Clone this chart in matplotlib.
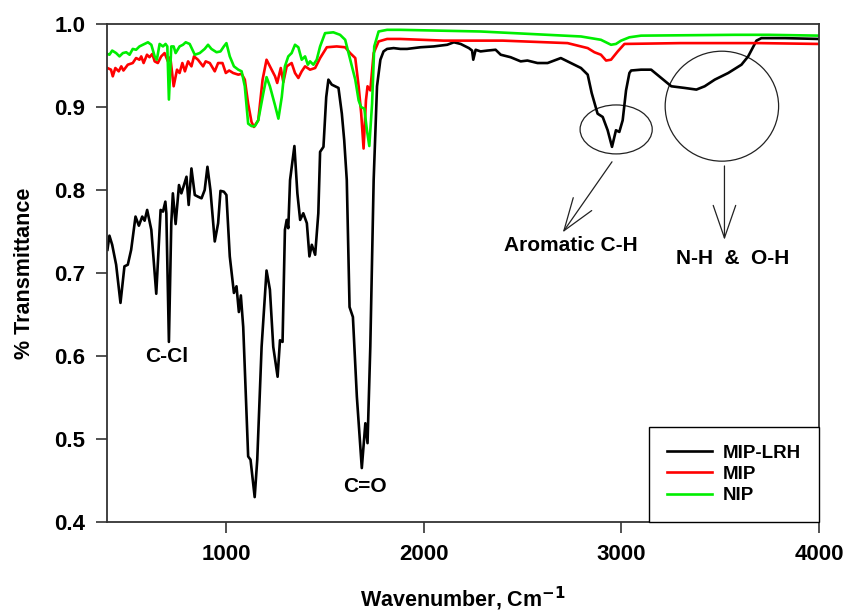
import matplotlib
matplotlib.use('Agg')
import matplotlib.pyplot as plt
from matplotlib.patches import Ellipse

plt.rcParams['font.family'] = ['Liberation Sans', 'DejaVu Sans']
plt.rcParams['font.weight'] = 'bold'

# MIP-LRH (black)
lrh_wn = [400, 410, 424, 444, 466, 486, 503, 520, 542, 559, 576, 588, 601, 622, 647, 669, 681, 693, 698,
          711, 723, 731, 745, 762, 774, 786, 800, 811, 825, 842, 858, 876, 892, 906, 921, 943, 960, 972,
          989, 1002, 1019, 1040, 1053, 1065, 1075, 1087, 1112, 1124, 1145, 1158, 1180, 1205, 1222, 1239,
          1261, 1273, 1286, 1298, 1307, 1315, 1324, 1346, 1361, 1375, 1391, 1409, 1422, 1434, 1451, 1467,
          1476, 1493, 1507, 1518, 1535, 1552, 1569, 1586, 1598, 1611, 1625, 1642, 1662, 1687, 1705, 1716,
          1730, 1747, 1764, 1781, 1797, 1815, 1848, 1882, 1916, 1984, 2051, 2119, 2153, 2187, 2229, 2245,
          2251, 2263, 2288, 2322, 2364, 2390, 2440, 2491, 2525, 2576, 2627, 2660, 2694, 2745, 2796, 2830,
          2850, 2880, 2906, 2931, 2953, 2973, 2990, 3007, 3024, 3041, 3050, 3100, 3151, 3202, 3253, 3320,
          3380, 3422, 3473, 3541, 3608, 3642, 3684, 3709, 3828, 4000]
lrh_t = [.728, .745, .734, .710, .664, .708, .710, .728, .768, .757, .768, .763, .776, .752, .675, .776, .774,
         .786, .772, .617, .760, .796, .759, .806, .796, .805, .816, .782, .826, .794, .792, .790, .800, .828,
         .800, .738, .760, .799, .798, .794, .720, .676, .684, .653, .673, .635, .479, .475, .430, .475, .611,
         .703, .680, .611, .575, .619, .617, .752, .764, .754, .812, .853, .796, .764, .772, .760, .720, .734,
         .722, .772, .846, .852, .912, .933, .927, .925, .923, .892, .860, .812, .659, .647, .551, .465, .519,
         .495, .611, .812, .925, .957, .967, .970, .971, .970, .970, .972, .973, .975, .978, .976, .971, .968,
         .957, .969, .967, .968, .969, .963, .960, .955, .956, .953, .953, .956, .959, .953, .947, .939, .917,
         .892, .888, .872, .852, .872, .870, .884, .920, .941, .944, .945, .945, .935, .925, .923, .921, .925,
         .933, .941, .951, .961, .980, .983, .983, .982]

# MIP (red)
mip_wn = [400, 418, 427, 440, 457, 470, 481, 503, 528, 545, 562, 571, 583, 600, 613, 627, 639, 655, 672, 689,
          706, 718, 735, 752, 765, 779, 792, 808, 825, 838, 858, 884, 897, 918, 943, 960, 982, 999, 1016, 1036,
          1062, 1079, 1095, 1112, 1129, 1141, 1163, 1185, 1205, 1248, 1259, 1277, 1290, 1307, 1332, 1349, 1366,
          1383, 1400, 1425, 1451, 1476, 1510, 1560, 1603, 1628, 1654, 1671, 1684, 1696, 1708, 1716, 1730, 1747,
          1772, 1815, 1882, 2100, 2400, 2728, 2830, 2864, 2897, 2923, 2948, 2982, 3016, 3300, 3700, 4000]
mip_t = [.947, .945, .937, .947, .943, .949, .944, .951, .953, .959, .957, .961, .953, .963, .960, .964, .955,
         .953, .961, .965, .955, .960, .925, .945, .941, .953, .943, .955, .949, .961, .957, .949, .955, .953,
         .943, .953, .953, .941, .944, .941, .939, .940, .933, .904, .882, .876, .884, .933, .957, .937, .929,
         .947, .930, .949, .953, .941, .935, .943, .949, .945, .947, .959, .972, .973, .972, .965, .959, .925,
         .892, .850, .908, .925, .920, .965, .979, .982, .982, .980, .980, .977, .971, .966, .963, .956, .957,
         .967, .976, .977, .977, .976]

# NIP (green)
nip_wn = [400, 410, 424, 444, 461, 478, 495, 512, 528, 545, 562, 579, 605, 622, 639, 650, 664, 681, 694, 703,
          711, 723, 735, 745, 765, 782, 796, 816, 842, 867, 892, 909, 926, 952, 972, 989, 1002, 1019, 1040, 1062,
          1079, 1095, 1112, 1129, 1146, 1163, 1189, 1205, 1222, 1248, 1265, 1282, 1298, 1315, 1332, 1349, 1366,
          1383, 1400, 1414, 1425, 1442, 1459, 1476, 1501, 1543, 1577, 1603, 1620, 1637, 1654, 1671, 1683, 1700,
          1713, 1725, 1739, 1750, 1772, 1815, 1882, 2288, 2542, 2796, 2897, 2948, 2973, 2999, 3041, 3100, 3575,
          3744, 4000]
nip_t = [.964, .963, .968, .965, .961, .965, .966, .963, .970, .969, .973, .975, .978, .975, .961, .957, .976,
         .973, .976, .973, .909, .973, .973, .965, .973, .975, .978, .976, .963, .965, .970, .975, .970, .966,
         .967, .973, .977, .961, .949, .945, .943, .925, .880, .877, .877, .884, .917, .936, .925, .902, .886,
         .912, .949, .961, .965, .975, .972, .957, .961, .951, .955, .951, .957, .973, .989, .990, .987, .981,
         .965, .949, .933, .908, .900, .898, .872, .853, .904, .973, .991, .993, .993, .991, .988, .985, .981,
         .975, .976, .980, .984, .986, .987, .987, .986]

fig = plt.figure(figsize=(8.46, 6.16), dpi=100)
ax = fig.add_axes([0.127, 0.1526, 0.841, 0.8084])

ax.plot(lrh_wn, lrh_t, color='black', lw=1.9, label='MIP-LRH')
ax.plot(mip_wn, mip_t, color='#ff0000', lw=1.9, label='MIP')
ax.plot(nip_wn, nip_t, color='#00ee00', lw=1.9, label='NIP')

ax.set_xlim(400, 4000)
ax.set_ylim(0.4, 1.0)
ax.set_xticks([1000, 2000, 3000, 4000])
ax.set_yticks([0.4, 0.5, 0.6, 0.7, 0.8, 0.9, 1.0])
ax.set_yticklabels(['0.4', '0.5', '0.6', '0.7', '0.8', '0.9', '1.0'])
ax.tick_params(direction='out', length=8, width=1.2, labelsize=16, pad=8, color='#333333')
for lab in ax.get_xticklabels() + ax.get_yticklabels():
    lab.set_fontweight('bold')
for sp in ax.spines.values():
    sp.set_color('#333333')
    sp.set_linewidth(1.3)

ax.set_xlabel('Wavenumber, Cm$^{\\mathbf{-1}}$', fontsize=15.5, fontweight='bold', labelpad=14)
ax.set_ylabel('% Transmittance', fontsize=15.5, fontweight='bold', labelpad=14)

# peak labels
ax.text(698, 0.600, 'C-Cl', ha='center', va='center', fontsize=15, fontweight='bold')
ax.text(1705, 0.443, 'C=O', ha='center', va='center', fontsize=15, fontweight='bold')
ax.text(2747, 0.733, 'Aromatic C-H', ha='center', va='center', fontsize=15, fontweight='bold')
ax.text(3565, 0.717, 'N-H  &  O-H', ha='center', va='center', fontsize=15, fontweight='bold')

ax.add_patch(Ellipse((2974, 0.873), 365, 0.059, fill=False, lw=0.9, color='#222222'))
ax.add_patch(Ellipse((3509, 0.901), 574, 0.1325, fill=False, lw=0.9, color='#222222'))

arrow = dict(arrowstyle='->,head_length=1.3,head_width=0.45', lw=0.9, color='#222222',
             shrinkA=0, shrinkB=0, mutation_scale=18)
ax.annotate('', xy=(2704, 0.749), xytext=(2953, 0.834), arrowprops=arrow)
ax.annotate('', xy=(3522, 0.740), xytext=(3522, 0.829), arrowprops=arrow)

leg = ax.legend(loc='lower right', bbox_to_anchor=(1.0, 0.0), borderaxespad=0,
                fancybox=False, edgecolor='black', framealpha=1,
                prop={'size': 13.5, 'weight': 'bold'},
                handlelength=2.4, handletextpad=0.6, labelspacing=0.22,
                borderpad=0.95)
leg.get_frame().set_linewidth(1.0)
for h in leg.get_lines():
    h.set_linewidth(1.9)

fig.savefig('out.png', dpi=100)
